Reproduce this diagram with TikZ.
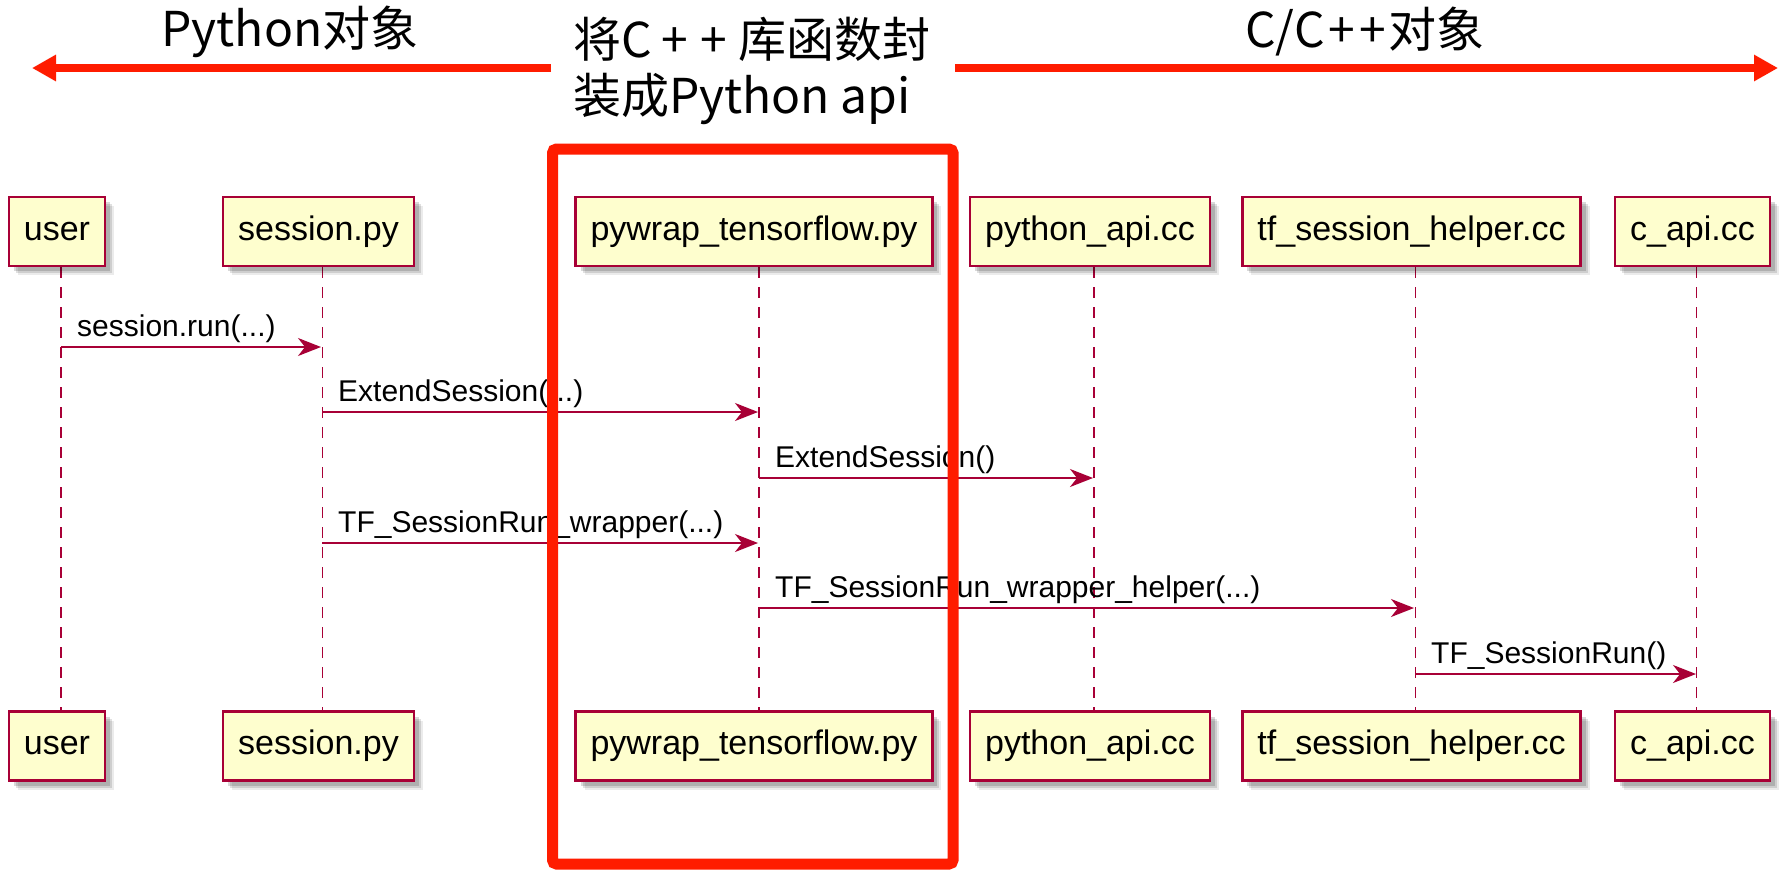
\documentclass[tikz,border=0pt]{standalone}
\usepackage{fontspec}
\setmainfont{Liberation Sans}
\newfontfamily\cjk{Noto Sans CJK SC}
\usetikzlibrary{arrows.meta,shadows}
\pgfdeclarelayer{bg}
\pgfsetlayers{bg,main}
\definecolor{umlfill}{HTML}{FEFECE}
\definecolor{umlred}{HTML}{A80036}
\definecolor{hired}{RGB}{255,28,0}
\tikzset{
  actorbox/.style={draw=umlred, line width=2.6pt, fill=umlfill, inner xsep=15pt,
    minimum height=69pt, font=\fontsize{34}{38}\selectfont,
    drop shadow={shadow xshift=9pt, shadow yshift=-9pt, fill=black, opacity=.08},
    drop shadow={shadow xshift=7pt, shadow yshift=-7pt, fill=black, opacity=.12},
    drop shadow={shadow xshift=5pt, shadow yshift=-5pt, fill=black, opacity=.15}},
  lifeline/.style={draw=umlred, line width=1.8pt, dash pattern=on 11pt off 9pt},
  msg/.style={draw=umlred, line width=1.6pt, -{Stealth[length=23pt, width=18pt, inset=7pt]}},
  msglabel/.style={anchor=base west, inner sep=0pt, font=\fontsize{30}{34}\selectfont},
  headarrow/.style={draw=hired, line width=8pt, -{Triangle[length=24pt, width=25pt]}},
  headtext/.style={inner sep=0pt, font=\cjk\fontsize{48}{56}\selectfont},
  frame/.style={draw=hired, line width=11pt, rounded corners=4pt}
}
\begin{document}
\begin{tikzpicture}[x=1pt,y=-1pt]
\useasboundingbox (0,0) rectangle (1786,879);
\begin{pgfonlayer}{bg}
\fill[white] (0,0) rectangle (1786,879);
\end{pgfonlayer}

% header
\node[headtext] (hpy) at (290,32) {Python对象};
\node[headtext] (hcc) at (1365,32) {C/C\kern4pt+\kern4pt+\kern3pt{}对象};
\node[headtext, align=left, anchor=west] (hmid) at (573,71) {将C\kern10pt+\kern12pt+\kern11pt{}库函数封\\装成Python api};
\coordinate (la) at (551,68);
\coordinate (lb) at (32,68);
\coordinate (ra) at (955,68);
\coordinate (rb) at (1778,68);
\draw[headarrow] (la) -- (lb);
\draw[headarrow] (ra) -- (rb);

% top participants
\node[actorbox] (u1) at (57,231.5) {user};
\node[actorbox] (s1) at (318.5,231.5) {session.py};
\node[actorbox] (p1) at (754,231.5) {pywrap\_tensorflow.py};
\node[actorbox] (a1) at (1090,231.5) {python\_api.cc};
\node[actorbox] (t1) at (1411.5,231.5) {tf\_session\_helper.cc};
\node[actorbox] (c1) at (1692.5,231.5) {c\_api.cc};

% bottom participants
\node[actorbox] (u2) at (57,746) {user};
\node[actorbox] (s2) at (318.5,746) {session.py};
\node[actorbox] (p2) at (754,746) {pywrap\_tensorflow.py};
\node[actorbox] (a2) at (1090,746) {python\_api.cc};
\node[actorbox] (t2) at (1411.5,746) {tf\_session\_helper.cc};
\node[actorbox] (c2) at (1692.5,746) {c\_api.cc};

% lifelines (behind the boxes)
\begin{pgfonlayer}{bg}
\foreach \n/\dx in {u/4,s/4,p/5,a/4,t/4,c/4}{
  \draw[lifeline] ([xshift=\dx pt]\n1.south) -- ([xshift=\dx pt]\n2.north);
}
\end{pgfonlayer}

% messages
\coordinate (m1a) at (61,347);   \coordinate (m1b) at (321,347);
\coordinate (m2a) at (322,412);  \coordinate (m2b) at (758,412);
\coordinate (m3a) at (759,478);  \coordinate (m3b) at (1093,478);
\coordinate (m4a) at (322,543);  \coordinate (m4b) at (758,543);
\coordinate (m5a) at (759,608);  \coordinate (m5b) at (1414,608);
\coordinate (m6a) at (1415,674); \coordinate (m6b) at (1696,674);
\draw[msg] (m1a) -- (m1b);
\draw[msg] (m2a) -- (m2b);
\draw[msg] (m3a) -- (m3b);
\draw[msg] (m4a) -- (m4b);
\draw[msg] (m5a) -- (m5b);
\draw[msg] (m6a) -- (m6b);
\node[msglabel] (l1) at ([xshift=16pt,yshift=11pt]m1a) {session.run(...)};
\node[msglabel] (l2) at ([xshift=16pt,yshift=11pt]m2a) {ExtendSession(...)};
\node[msglabel] (l3) at ([xshift=16pt,yshift=11pt]m3a) {ExtendSession()};
\node[msglabel] (l4) at ([xshift=16pt,yshift=11pt]m4a) {TF\_SessionRun\_wrapper(...)};
\node[msglabel] (l5) at ([xshift=16pt,yshift=11pt]m5a) {TF\_SessionRun\_wrapper\_helper(...)};
\node[msglabel] (l6) at ([xshift=16pt,yshift=11pt]m6a) {TF\_SessionRun()};

% red frame
\draw[frame] (552.5,149) rectangle (953,864);
\end{tikzpicture}
\end{document}
